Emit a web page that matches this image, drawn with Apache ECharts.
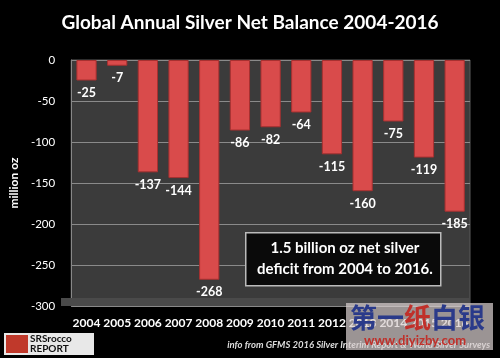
<!DOCTYPE html>
<html><head><meta charset="utf-8">
<script src="https://cdn.jsdelivr.net/npm/echarts@6/dist/echarts.min.js"></script>
<style>html,body{margin:0;padding:0;background:#000;}#c{width:500px;height:358px;}</style>
</head><body><div id="c"></div>
<script>
const years = ['2004','2005','2006','2007','2008','2009','2010','2011','2012','2013','2014','2015','2016'];
const balance = [-25,-7,-137,-144,-268,-86,-82,-64,-115,-160,-75,-119,-185];
const yTicks = {min:-300, max:0, interval:50};
const titleText = 'Global Annual Silver Net Balance 2004-2016';
const noteLines = ['1.5 billion oz net silver', 'deficit from 2004 to 2016.'];
const sourceText = 'info from GFMS 2016 Silver Interim Report & World Silver Surveys';
const F = 'Lato, "Open Sans", sans-serif';

const chart = echarts.init(document.getElementById('c'));
chart.setOption({
  backgroundColor:'#000',
  animation:false,
  title:{text:titleText, left:'center', top:8,
    textStyle:{color:'#fff', fontSize:19, fontWeight:'bold', fontFamily:F}},
  grid:{left:60, right:30, top:60, bottom:52, show:true, backgroundColor:'#3b3b3b', borderColor:'#5a5a5a', borderWidth:1},
  xAxis:{type:'category', data:years, position:'bottom',
    axisLine:{show:false}, axisTick:{show:false},
    axisLabel:{interval:0, color:'#fff', fontSize:12, fontWeight:'bold', fontFamily:F, margin:11}},
  yAxis:{type:'value', min:yTicks.min, max:yTicks.max, interval:yTicks.interval,
    name:'million oz', nameLocation:'middle', nameGap:40, nameRotate:90,
    nameTextStyle:{color:'#fff', fontSize:12, fontWeight:'bold', fontFamily:F},
    axisLine:{show:true, lineStyle:{color:'#888'}}, axisTick:{show:false},
    axisLabel:{color:'#fff', fontSize:11.5, fontFamily:F, margin:16},
    splitLine:{lineStyle:{color:'#8a8a8a', width:1}}},
  series:[{type:'bar', data:balance, barWidth:'66%',
    itemStyle:{color:'#d94b4b', borderColor:'#a83030', borderWidth:1},
    label:{show:true, position:'bottom', distance:6, color:'#fff', fontSize:12.5, fontWeight:'bold', fontFamily:F}}],
  graphic:[
    {type:'rect', left:61, top:298, shape:{width:408, height:8}, style:{fill:'#4a4a4a'}, z:1, silent:true},
    {type:'rect', left:245, top:232, shape:{width:195, height:53},
      style:{fill:'#0a0a0a', stroke:'#bbb', lineWidth:1.5}, z:10},
    {type:'text', left:257, top:238, z:11,
      style:{text:noteLines.join('\n'), fill:'#fff', font:'bold 15px '+F, lineHeight:21, textAlign:'center', x:85}},
    {type:'text', right:10, top:340, z:11,
      style:{text:sourceText, fill:'#ddd', font:'italic bold 9.5px '+F}},
    {type:'rect', left:4, top:333, shape:{width:90, height:22}, style:{fill:'#e8e8e8'}, z:10},
    {type:'rect', left:6, top:335, shape:{width:22, height:18}, style:{fill:'#c0392b'}, z:11},
    {type:'text', left:30, top:334, z:11,
      style:{text:'SRSrocco\nREPORT', fill:'#111', font:'bold 10px '+F, lineHeight:10}},
    {type:'rect', left:346, top:303, shape:{width:147, height:47}, style:{fill:'rgba(215,205,205,0.72)'}, z:20},
    {type:'text', left:350, top:304, z:21,
      style:{text:'{b|第一}{r|纸}{b|白银}', font:'bold 27px "Noto Sans CJK SC"',
        rich:{b:{fill:'#2a3a8a', font:'bold 27px "Noto Sans CJK SC"'}, r:{fill:'#c0302a', font:'bold 27px "Noto Sans CJK SC"'}}}},
    {type:'text', left:364, top:334, z:21,
      style:{text:'www.diyizby.com', fill:'#c0302a', font:'bold 13px '+F}}
  ]
});
</script></body></html>
